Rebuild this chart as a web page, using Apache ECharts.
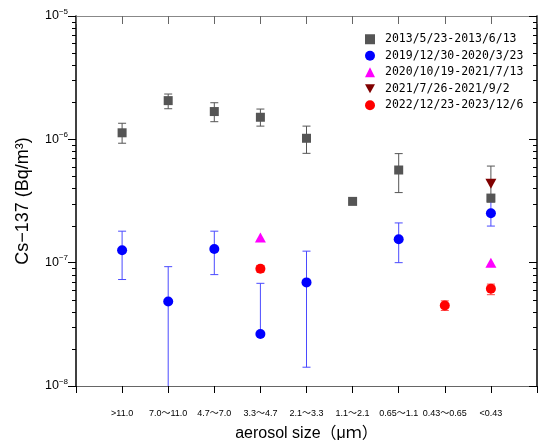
<!DOCTYPE html>
<html><head><meta charset="utf-8">
<script src="https://cdn.jsdelivr.net/npm/echarts@6.0.0/dist/echarts.min.js"></script>
<style>html,body{margin:0;padding:0;background:#fff}#c{width:539px;height:440px}</style>
</head><body><div id="c"></div>
<script>
const categories = ['>11.0','7.0～11.0','4.7～7.0','3.3～4.7','2.1～3.3','1.1～2.1','0.65～1.1','0.43～0.65','<0.43'];
const seriesNames = ['2013/5/23-2013/6/13','2019/12/30-2020/3/23','2020/10/19-2021/7/13','2021/7/26-2021/9/2','2022/12/23-2023/12/6'];
const yTickValues = [1e-8, 1e-7, 1e-6, 1e-5];

const s2013   = [1.13e-6, 2.06e-6, 1.68e-6, 1.51e-6, 1.02e-6, 3.14e-7, 5.64e-7, null, 3.34e-7];
const s2013Lo = [0.93e-6, 1.77e-6, 1.39e-6, 1.28e-6, 0.77e-6, null, 3.70e-7, null, 3.10e-7];
const s2013Hi = [1.35e-6, 2.33e-6, 1.98e-6, 1.76e-6, 1.28e-6, null, 7.66e-7, null, 6.07e-7];

const s2019   = [1.26e-7, 4.85e-8, 1.29e-7, 2.64e-8, 6.92e-8, null, 1.55e-7, null, 2.52e-7];
const s2019Lo = [7.3e-8, 5e-9, 8.0e-8, 2.64e-8, 1.42e-8, null, 1.0e-7, null, 1.98e-7];
const s2019Hi = [1.80e-7, 9.28e-8, 1.80e-7, 6.8e-8, 1.24e-7, null, 2.1e-7, null, 3.2e-7];

const s2020   = [null, null, null, 1.6e-7, null, null, null, null, 1.0e-7];
const s2021   = [null, null, null, null, null, null, null, null, 4.37e-7];

const s2022   = [null, null, null, 8.93e-8, null, null, null, 4.5e-8, 6.15e-8];
const s2022Lo = [null, null, null, 8.4e-8, null, null, null, 4.1e-8, 5.5e-8];
const s2022Hi = [null, null, null, 9.5e-8, null, null, null, 4.9e-8, 6.7e-8];

// minor tick positions of the log axis (2..9 × 10^n)
const minorTickValues = [];
[-8, -7, -6].forEach(e => { for (let m = 2; m <= 9; m++) minorTickValues.push(m * Math.pow(10, e)); });

function pts(arr) {
  const out = [];
  arr.forEach((v, i) => { if (v != null) out.push([i + 1, v]); });
  return out;
}
function errSeries(lo, hi, color) {
  const data = [];
  lo.forEach((l, i) => { if (l != null && hi[i] != null) data.push([i + 1, l, hi[i]]); });
  return {
    type: 'custom', silent: true, clip: true, z: 1,
    xAxisIndex: 0, yAxisIndex: 0,
    encode: { x: 0, y: [1, 2] },
    data: data,
    renderItem: function (params, api) {
      const x = api.value(0);
      const p1 = api.coord([x, api.value(1)]);
      const p2 = api.coord([x, api.value(2)]);
      const w = 4;
      const st = { stroke: color, lineWidth: 1 };
      return { type: 'group', children: [
        { type: 'line', shape: { x1: p1[0], y1: p1[1], x2: p2[0], y2: p2[1] }, style: st },
        { type: 'line', shape: { x1: p1[0] - w, y1: p1[1], x2: p1[0] + w, y2: p1[1] }, style: st },
        { type: 'line', shape: { x1: p2[0] - w, y1: p2[1], x2: p2[0] + w, y2: p2[1] }, style: st }
      ]};
    }
  };
}

const downTri = 'path://M0,0L10,0L5,9Z';
const chart = echarts.init(document.getElementById('c'), null, { renderer: 'canvas' });
const fontSans = "'Liberation Sans', 'Noto Sans CJK JP', sans-serif";

chart.setOption({
  animation: false,
  backgroundColor: '#fff',
  grid: { left: 76, right: 2, top: 16, bottom: 54, containLabel: false, outerBoundsMode: 'none' },
  legend: {
    orient: 'vertical', left: 365, top: 31, padding: 0, itemGap: 0,
    itemWidth: 10, itemHeight: 10,
    data: seriesNames,
    textStyle: { fontFamily: "'DejaVu Sans Mono', monospace", fontSize: 11.5, color: '#000', padding: [0, 0, 0, 5], lineHeight: 16.5 }
  },
  xAxis: [{
    type: 'value', min: 0, max: 10, interval: 1, position: 'bottom',
    name: 'aerosol size（μｍ）', nameLocation: 'middle', nameGap: 40,
    nameTextStyle: { fontFamily: fontSans, fontSize: 16, color: '#000' },
    axisLine: { onZero: false, lineStyle: { color: '#666', width: 1 } },
    axisTick: { inside: false, length: 7, lineStyle: { color: '#000' } },
    axisLabel: { margin: 23, fontFamily: fontSans, fontSize: 9, color: '#000', showMinLabel: true, showMaxLabel: true,
      formatter: function (v) { const k = Math.round(v); return (k >= 1 && k <= 9) ? categories[k - 1] : ''; } },
    splitLine: { show: false }
  }, {
    type: 'value', min: 0, max: 10, interval: 1, position: 'top',
    axisLine: { onZero: false, lineStyle: { color: '#888', width: 1 } },
    axisTick: { inside: true, length: 8, lineStyle: { color: '#666' } },
    axisLabel: { show: false }, splitLine: { show: false }
  }],
  yAxis: [{
    type: 'log', logBase: 10, min: yTickValues[0], max: yTickValues[yTickValues.length - 1], interval: 1,
    position: 'left',
    name: 'Cs−137 (Bq/m³)', nameLocation: 'middle', nameGap: 44,
    nameTextStyle: { fontFamily: fontSans, fontSize: 18, color: '#000' },
    axisLine: { onZero: false, lineStyle: { color: '#000', width: 1.5 } },
    axisTick: { inside: false, length: 8, lineStyle: { color: '#000' } },
    axisLabel: {
      margin: 8, color: '#000',
      formatter: function (v) { const e = Math.round(Math.log10(v)); return '{b|10}{s|−' + Math.abs(e) + '}'; },
      rich: {
        b: { fontFamily: fontSans, fontSize: 12.5, color: '#000' },
        s: { fontFamily: fontSans, fontSize: 8, color: '#000', padding: [0, 0, 9, 0] }
      }
    },
    splitLine: { show: false }
  }, {
    type: 'log', logBase: 10, min: yTickValues[0], max: yTickValues[yTickValues.length - 1], interval: 1,
    position: 'right',
    axisLine: { onZero: false, lineStyle: { color: '#000', width: 1.5 } },
    axisTick: { inside: true, length: 8, lineStyle: { color: '#000' } },
    axisLabel: { show: false }, splitLine: { show: false }
  }],
  series: [
    errSeries(s2013Lo, s2013Hi, '#555555'),
    errSeries(s2019Lo, s2019Hi, '#4a4aff'),
    errSeries(s2022Lo, s2022Hi, '#ff4040'),
    { name: seriesNames[0], type: 'scatter', symbol: 'rect', symbolSize: 9, z: 3,
      itemStyle: { color: '#555555', opacity: 1 }, data: pts(s2013) },
    { name: seriesNames[1], type: 'scatter', symbol: 'circle', symbolSize: 10, z: 3,
      itemStyle: { color: '#0000ff', opacity: 1 }, data: pts(s2019) },
    { name: seriesNames[2], type: 'scatter', symbol: 'triangle', symbolSize: [11, 10], z: 3,
      itemStyle: { color: '#ff00ff', opacity: 1 }, data: pts(s2020) },
    { name: seriesNames[3], type: 'scatter', symbol: downTri, symbolSize: [11, 10], z: 4,
      itemStyle: { color: '#800000', opacity: 1 }, data: pts(s2021) },
    { name: seriesNames[4], type: 'scatter', symbol: 'circle', symbolSize: 10, z: 3,
      itemStyle: { color: '#ff0000', opacity: 1 }, data: pts(s2022) }
  ]
});

// minor ticks on the left/right log axes, placed through the axis scale
const minorGraphics = [];
minorTickValues.forEach(v => {
  const pl = chart.convertToPixel({ xAxisIndex: 0, yAxisIndex: 0 }, [0, v]);
  const pr = chart.convertToPixel({ xAxisIndex: 0, yAxisIndex: 0 }, [10, v]);
  const yl = Math.round(pl[1]) + 0.5, yr = Math.round(pr[1]) + 0.5;
  minorGraphics.push({ type: 'line', silent: true, z: 10, shape: { x1: pl[0] - 4, y1: yl, x2: pl[0], y2: yl }, style: { stroke: '#000', lineWidth: 1 } });
  minorGraphics.push({ type: 'line', silent: true, z: 10, shape: { x1: pr[0] - 4, y1: yr, x2: pr[0], y2: yr }, style: { stroke: '#000', lineWidth: 1 } });
});
chart.setOption({ graphic: minorGraphics });
</script>
</body></html>
